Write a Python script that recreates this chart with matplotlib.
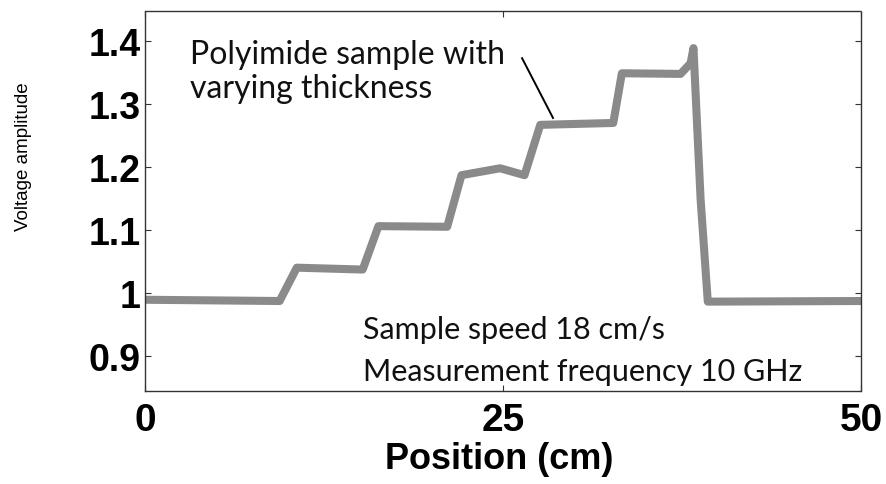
import matplotlib.pyplot as plt

# staircase trace of the polyimide sample passing the sensor
position_cm = [0, 9.4, 10.6, 15.2, 16.3, 21.1, 22.1, 24.8, 26.5, 27.6,
               32.7, 33.3, 37.4, 38.1, 38.3, 38.8, 39.3, 50]
voltage = [0.989, 0.987, 1.040, 1.037, 1.106, 1.105, 1.187, 1.198, 1.187, 1.267,
           1.270, 1.349, 1.348, 1.365, 1.389, 1.148, 0.986, 0.987]

x_ticks = [0, 25, 50]
y_ticks = [0.9, 1.0, 1.1, 1.2, 1.3, 1.4]
y_tick_labels = ['0.9', '1', '1.1', '1.2', '1.3', '1.4']

fig = plt.figure(figsize=(8.87, 4.85), dpi=100)
ax = fig.add_axes([0.1635, 0.1918, 0.8072, 0.7835])

ax.plot(position_cm, voltage, color='#8a8a8a', lw=5.8, solid_joinstyle='round')

ax.set_xlim(0, 50)
ax.set_ylim(0.844, 1.448)
ax.set_xticks(x_ticks)
ax.set_xticklabels([str(t) for t in x_ticks], fontsize=28, fontweight='bold',
                   family='Liberation Sans')
ax.set_yticks(y_ticks)
ax.set_yticklabels(y_tick_labels, fontsize=27, fontweight='bold',
                   family='Liberation Sans')
ax.tick_params(direction='in', length=4, width=0.8, top=True, right=True,
               colors='#333333', labelcolor='black')
ax.tick_params(axis='x', pad=8)
ax.tick_params(axis='y', pad=3)

for s in ax.spines.values():
    s.set_linewidth(1.0)
    s.set_color('#333333')
    s.set_linestyle((0, (1, 1)))

fig.text(0.563, 0.033, 'Position (cm)', fontsize=26, fontweight='bold',
         family='Liberation Sans', ha='center', va='baseline')
fig.text(0.026, 0.676, 'Voltage amplitude', rotation=90, fontsize=13.5,
         family='Liberation Sans', ha='center', va='center')

txt = dict(family='Lato', color='#111111', va='baseline')
ax.text(3.14, 1.365, 'Polyimide sample with', fontsize=23, **txt)
ax.text(3.14, 1.311, 'varying thickness', fontsize=23, **txt)
ax.text(15.2, 0.928, 'Sample speed 18 cm/s', fontsize=22, **txt)
ax.text(15.2, 0.862, 'Measurement frequency 10 GHz', fontsize=22, **txt)
ax.plot([26.33, 28.49], [1.373, 1.278], color='black', lw=1.4)

fig.savefig('out.png', dpi=100)
